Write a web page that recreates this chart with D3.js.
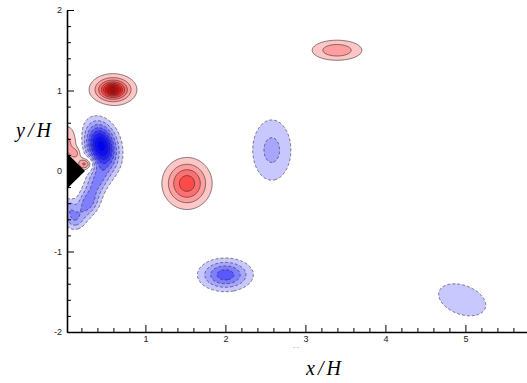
<!DOCTYPE html>
<html><head><meta charset="utf-8">
<script src="https://cdn.jsdelivr.net/npm/d3@7"></script>
<style>body{margin:0;background:#fff}svg{display:block}</style>
</head><body>
<svg id="chart" width="527" height="383"></svg>
<script>
// ---- data ----
// vortex (blob) parameters: centre, peak level, widths, tilt (deg), profile power
const vortexX     = [0.595, 1.52,  3.395, 0.45,  0.40,  0.28,  0.11,  0.04,  2.00,  2.58,  4.96,  0.03, 0.25, 0.13];
const vortexY     = [1.01, -0.155, 1.50,  0.31, -0.12, -0.40, -0.60, -0.45, -1.29,  0.26, -1.60,  0.34, 0.09, 0.22];
const vortexAmp   = [11,    4.6,   2.8,  -8.5,  -3.0,  -3.5,  -2.5,  -2.0,  -4.6,  -2.3,  -1.5,   2.2,  3.8,  1.6];
const vortexSx    = [0.081, 0.18,  0.216, 0.125, 0.09,  0.09,  0.09,  0.06,  0.20,  0.185, 0.34,  0.10, 0.07, 0.05];
const vortexSy    = [0.054, 0.185, 0.087, 0.19,  0.14,  0.13,  0.09,  0.08,  0.12,  0.29,  0.20,  0.17, 0.055,0.05];
const vortexAngle = [0,     0,     0,     15,   -30,   -30,   -40,    0,     0,     0,   -20,     0,    0,    0];
const vortexPower = [1.2,   2,     2,     2,     2,     2,     2,     2,     2,     2,     2,     2,    2,    2];
const levels = [1,2,3,4,5,6,7,8,9,10,11,12];
const posColors = ["#ffc6c6","#ff9e9e","#ff7070","#ff4a4a","#ff2a2a","#ff1414","#ff0808","#fa0000","#f20000","#ea0000","#e20000","#da0000"];
const negColors = ["#c8c8ff","#a6a6ff","#7e7eff","#5858ff","#3636ff","#1e1eff","#0c0cff","#0000fa","#0000f0","#0000e6","#0000dc","#0000d2"];
const wedgeX = [0.02, 0.245, 0.02];
const wedgeY = [0.22, 0.0, -0.22];
const xMajor = [1,2,3,4,5];
const yMajor = [-2,-1,0,1,2];

// ---- layout ----
const svg = d3.select("#chart");
const xMin = 0.02, xMax = 5.77, yMin = -2, yMax = 2;
const x = d3.scaleLinear().domain([xMin, xMax]).range([67, 527]);
const y = d3.scaleLinear().domain([yMin, yMax]).range([332, 10]);

// ---- grid field ----
const dx = 0.01, dy = 0.01;
const nx = Math.round((xMax - xMin) / dx) + 1, ny = Math.round((yMax - yMin) / dy) + 1;
const pos = new Float64Array(nx * ny), neg = new Float64Array(nx * ny);
const blobs = vortexX.map((cx, k) => {
  const a = vortexAngle[k] * Math.PI / 180;
  return {cx, cy: vortexY[k], amp: vortexAmp[k], sx: vortexSx[k], sy: vortexSy[k],
          c: Math.cos(a), s: Math.sin(a), p: vortexPower[k] / 2};
});
for (let j = 0; j < ny; j++) {
  const yy = yMax - j * dy;
  for (let i = 0; i < nx; i++) {
    const xx = xMin + i * dx;
    let v = 0;
    for (const b of blobs) {
      const ddx = xx - b.cx, ddy = yy - b.cy;
      if (Math.abs(ddx) > 1.5 || Math.abs(ddy) > 1.5) continue;
      const u = ddx * b.c + ddy * b.s, w = -ddx * b.s + ddy * b.c;
      const q = u * u / (b.sx * b.sx) + w * w / (b.sy * b.sy);
      v += b.amp * Math.exp(-0.5 * Math.pow(q, b.p));
    }
    pos[j * nx + i] = v;
    neg[j * nx + i] = -v;
  }
}
const contours = d3.contours().size([nx, ny]).thresholds(levels);
const proj = d3.geoTransform({
  point: function(gx, gy) {
    this.stream.point(x(xMin + (gx - 0.5) * dx), y(yMax - (gy - 0.5) * dy));
  }
});
const path = d3.geoPath(proj);

svg.append("clipPath").attr("id", "clip").append("rect")
  .attr("x", 67).attr("y", 10).attr("width", 460).attr("height", 322);
const plot = svg.append("g").attr("clip-path", "url(#clip)");

const posC = contours(pos), negC = contours(neg);
plot.append("g").selectAll("path").data(posC).join("path")
  .attr("d", path).attr("fill", (d, i) => posColors[i]).attr("stroke", "none");
plot.append("g").selectAll("path").data(negC).join("path")
  .attr("d", path).attr("fill", (d, i) => negColors[i]).attr("stroke", "none");
plot.append("g").selectAll("path").data(posC).join("path")
  .attr("d", path).attr("fill", "none").attr("stroke", "#2a2a2a").attr("stroke-width", 0.6);
plot.append("g").selectAll("path").data(negC).join("path")
  .attr("d", path).attr("fill", "none").attr("stroke", "#2a2a2a").attr("stroke-width", 0.6)
  .attr("stroke-dasharray", "3,2");

// wedge
plot.append("path")
  .attr("d", d3.line().x(d => x(d[0])).y(d => y(d[1]))(wedgeX.map((v, i) => [v, wedgeY[i]])) + "Z")
  .attr("fill", "#000");

// ---- axes ----
const fmt = d => String(d);
const xMinor = d3.range(0.2, 5.7, 0.2).filter(v => Math.abs(v - Math.round(v)) > 1e-6);
const yMinor = d3.range(-1.8, 2, 0.2).filter(v => Math.abs(v - Math.round(v)) > 1e-6);

const gx = svg.append("g").attr("transform", "translate(0,332)");
gx.call(d3.axisBottom(x).tickValues(xMinor).tickSizeInner(-4).tickSizeOuter(0).tickFormat(""));
gx.call(g => g.select(".domain").remove());
const gx2 = svg.append("g").attr("transform", "translate(0,332)");
gx2.call(d3.axisBottom(x).tickValues(xMajor).tickSizeInner(-7).tickSizeOuter(0).tickPadding(4).tickFormat(fmt));
gx2.select(".domain").attr("stroke-width", 1.6);

const gy = svg.append("g").attr("transform", "translate(67,0)");
gy.call(d3.axisLeft(y).tickValues(yMinor).tickSizeInner(-4).tickSizeOuter(0).tickFormat(""));
gy.call(g => g.select(".domain").remove());
const gy2 = svg.append("g").attr("transform", "translate(67,0)");
gy2.call(d3.axisLeft(y).tickValues(yMajor).tickSizeInner(-7).tickSizeOuter(0).tickPadding(5).tickFormat(fmt));
gy2.select(".domain").attr("stroke-width", 1.6);

svg.selectAll(".tick text").attr("font-family", "Liberation Sans, Arial, sans-serif")
  .attr("font-size", 9).attr("fill", "#222");
svg.selectAll(".tick line").attr("stroke-width", 1);

// axis titles
svg.append("text").attr("x", 35).attr("y", 137).attr("text-anchor", "middle")
  .attr("font-family", "Liberation Serif, Times New Roman, serif").attr("font-style", "italic")
  .attr("font-size", 20).attr("letter-spacing", 3).text("y/H");
svg.append("text").attr("x", 325).attr("y", 375).attr("text-anchor", "middle")
  .attr("font-family", "Liberation Serif, Times New Roman, serif").attr("font-style", "italic")
  .attr("font-size", 20).attr("letter-spacing", 3).text("x/H");
svg.append("text").attr("x", 296).attr("y", 349).attr("text-anchor", "middle")
  .attr("font-family", "Liberation Sans, sans-serif").attr("font-size", 6).attr("fill", "#666").text("- -");
</script>
</body></html>
